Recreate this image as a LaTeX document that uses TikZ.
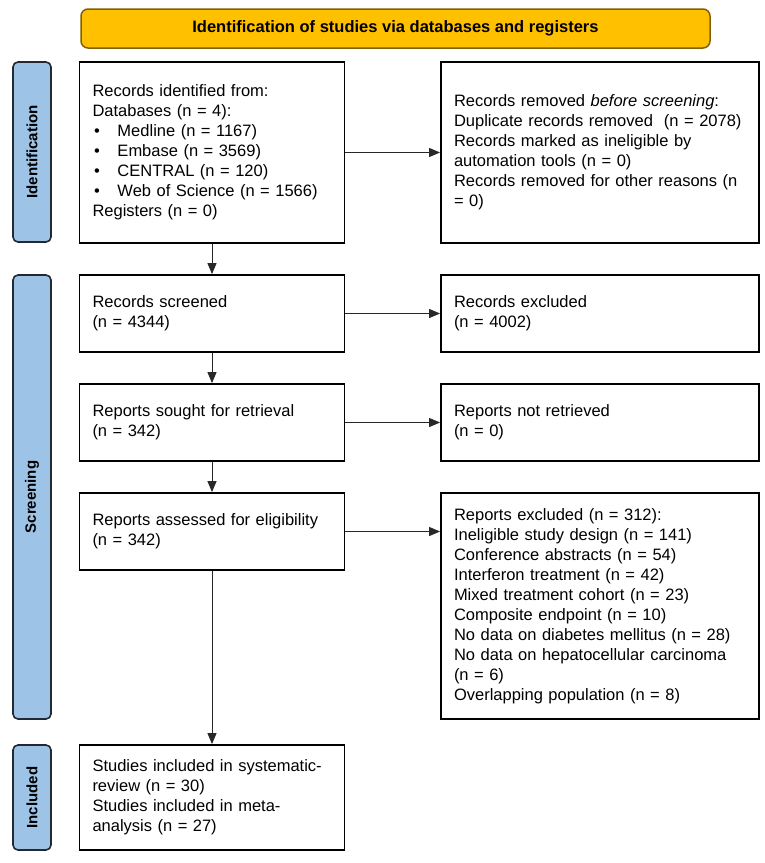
\documentclass[tikz,border=0pt]{standalone}
\usepackage{fontspec}
\setmainfont{Liberation Sans}
\usetikzlibrary{arrows.meta}
\definecolor{hdrfill}{RGB}{255,192,0}
\definecolor{hdrdraw}{RGB}{128,96,0}
\definecolor{sidefill}{RGB}{157,195,230}
\definecolor{sidedraw}{RGB}{35,40,50}
\definecolor{arrowc}{RGB}{40,40,40}
\newcommand{\bul}{\makebox[25pt][l]{\hspace{1.5pt}•}}
\begin{document}
\begin{tikzpicture}[x=1pt,y=-1pt,
  box/.style={draw=black, line width=1.8pt, fill=white, inner xsep=13pt, inner ysep=0pt,
    align=left, font=\fontsize{16.5}{20}\selectfont, anchor=center},
  lbox/.style={box, text width=239pt},
  rbox/.style={box, text width=292pt},
  sidelab/.style={draw=sidedraw, fill=sidefill, line width=1.6pt, rounded corners=5pt,
    rotate=90, font=\bfseries\fontsize{15}{18}\selectfont, inner sep=0pt, minimum height=38pt},
  header/.style={draw=hdrdraw, fill=hdrfill, line width=1.5pt, rounded corners=7pt,
    font=\bfseries\fontsize{16.5}{20}\selectfont, minimum width=629pt, minimum height=39pt},
  flow/.style={draw=arrowc, line width=1pt, -{Triangle[length=11pt,width=9pt]}},
]
\useasboundingbox (0,0) rectangle (765,863);

\node[header] (hdr) at (395.5,28.5) {Identification of studies via databases and registers};

\node[sidelab, minimum width=180pt] (sid) at (32,152) {Identification};
\node[sidelab, minimum width=444pt] (sscr) at (32,497) {Screening};
\node[sidelab, minimum width=105pt] (sinc) at (32,797.5) {Included};

\node[lbox, minimum height=181pt] (A) at (212,152.5) {Records identified from:\\
Databases (n = 4):\\
\bul Medline (n = 1167)\\
\bul Embase (n = 3569)\\
\bul CENTRAL (n = 120)\\
\bul Web of Science (n = 1566)\\
Registers (n = 0)};

\node[rbox, minimum height=181pt] (B) at (600,152.5) {Records removed \textit{before screening}:\\
Duplicate records removed~~(n = 2078)\\
Records marked as ineligible by\\
automation tools (n = 0)\\
Records removed for other reasons (n\\
= 0)};

\node[lbox, minimum height=77pt] (C) at (212,313.5) {Records screened\\(n = 4344)};
\node[rbox, minimum height=77pt] (D) at (600,313.5) {Records excluded\\(n = 4002)};

\node[lbox, minimum height=77pt] (E) at (212,422.5) {Reports sought for retrieval\\(n = 342)};
\node[rbox, minimum height=77pt] (Er) at (600,422.5) {Reports not retrieved\\(n = 0)};

\node[lbox, minimum height=77pt] (F) at (212,531.5) {Reports assessed for eligibility\\(n = 342)};
\node[rbox, minimum height=226pt] (Fp) at (600,606) {Reports excluded (n = 312):\\
Ineligible study design (n = 141)\\
Conference abstracts (n = 54)\\
Interferon treatment (n = 42)\\
Mixed treatment cohort (n = 23)\\
Composite endpoint (n = 10)\\
No data on diabetes mellitus (n = 28)\\
No data on hepatocellular carcinoma\\
(n = 6)\\
Overlapping population (n = 8)};

\node[lbox, minimum height=105pt] (G) at (212,797.5) {Studies included in systematic-\\
review (n = 30)\\
Studies included in meta-\\
analysis (n = 27)};

\draw[flow] (A) -- (C);
\draw[flow] (C) -- (E);
\draw[flow] (E) -- (F);
\draw[flow] (F) -- (G);
\draw[flow] (A) -- (B);
\draw[flow] (C) -- (D);
\draw[flow] (E) -- (Er);
\draw[flow] (F.east) -- (F.east -| Fp.west);
\end{tikzpicture}
\end{document}
